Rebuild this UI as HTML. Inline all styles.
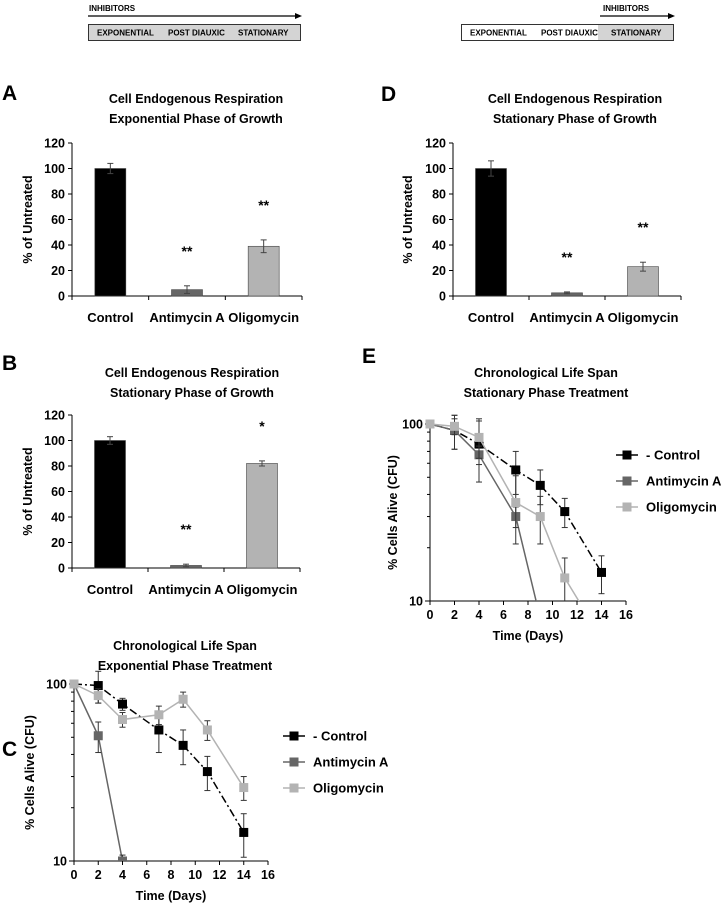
<!DOCTYPE html>
<html><head><meta charset="utf-8"><style>
body{margin:0;background:#fff}
svg{display:block;font-family:"Liberation Sans",Arial,sans-serif;font-weight:bold}
</style></head><body>
<svg id="fig" width="722" height="909" viewBox="0 0 722 909">
<g>
<text x="89" y="11" font-size="8">INHIBITORS</text>
<line x1="88" y1="16" x2="296" y2="16" stroke="#000" stroke-width="1.2"/><polygon points="302,16 295,13 295,19" fill="#000"/>
<rect x="88.5" y="24.5" width="212" height="16" fill="#d4d4d4" stroke="#333"/>
<text x="97" y="35.5" font-size="8">EXPONENTIAL</text>
<text x="168" y="35.5" font-size="8">POST DIAUXIC</text>
<text x="238" y="35.5" font-size="8">STATIONARY</text>
</g>
<g>
<text x="603" y="11" font-size="8">INHIBITORS</text>
<line x1="600" y1="16" x2="668" y2="16" stroke="#000" stroke-width="1.2"/><polygon points="675,16 668,13 668,19" fill="#000"/>
<rect x="461.5" y="24.5" width="212" height="16" fill="#fff" stroke="#333"/>
<rect x="598" y="25" width="75" height="15" fill="#d4d4d4"/>
<text x="470" y="35.5" font-size="8">EXPONENTIAL</text>
<text x="541" y="35.5" font-size="8">POST DIAUXIC</text>
<text x="611" y="35.5" font-size="8">STATIONARY</text>
</g>
</svg>
<script>
// Bar charts data
const barCats = ["Control","Antimycin A","Oligomycin"];
const barColors = ["#000000","#666666","#b3b3b3"];
const valsA = [100, 5, 39];
const errA = [4, 3, 5];
const starsA = ["", "**", "**"];
const valsB = [100, 2, 82];
const errB = [3, 1, 2];
const starsB = ["", "**", "*"];
const valsD = [100, 2.5, 23];
const errD = [6, 0.7, 3.5];
const starsD = ["", "**", "**"];
const barTicks = [0,20,40,60,80,100,120];
// Line charts data
const days = [0,2,4,7,9,11,14];
const ctlC = [100,98,77,55,45,32,14.5];
const ctlCerr = [2,20,6,14,10,7,4];
const antiDaysC = [0,2,4];
const antiC = [100,51,10];
const antiCerr = [2,10,0.8];
const oliC = [100,86,63,67,82,55,26];
const oliCerr = [2,8,6,8,8,7,4];
const ctlE = [100,92,77,55,45,32,14.5];
const ctlEerr = [2,20,30,15,10,6,3.5];
const antiDaysE = [0,2,4,7,9];
const antiE = [100,92,67,30,8];
const antiEerr = [2,20,8,4,4];
const oliDaysE = [0,2,4,7,9,11,13];
const oliE = [100,97,84,36,30,13.5,8];
const oliEerr = [2,10,20,15,9,4,0];
const xTicks = [0,2,4,6,8,10,12,14,16];
const legendNames = ["- Control","Antimycin A","Oligomycin"];

const NS="http://www.w3.org/2000/svg";
const svg=document.getElementById('fig');
function el(tag,attrs,parent,txt){const e=document.createElementNS(NS,tag);for(const k in attrs)e.setAttribute(k,attrs[k]);if(txt!==undefined)e.textContent=txt;(parent||svg).appendChild(e);return e;}

function barChart(name,letter,lx,ly,title1,title2,tx,ty,ax,x1,y0,y120,vals,errs,stars,ylabX){
  const g=el('g',{});
  
  
  const yS=v=>y0-(v/120)*(y0-y120);
  const L=el('text',{x:lx,y:ly,'font-size':21},g,letter);
  
  
  const t1=el('text',{x:tx,y:ty,'font-size':12.5,'text-anchor':'middle'},g,title1);
  
  
  el('text',{x:tx,y:ty+20,'font-size':12.5,'text-anchor':'middle'},g,title2);
  el('line',{x1:ax,y1:y120,x2:ax,y2:y0,stroke:'#000'},g);
  el('line',{x1:ax,y1:y0,x2:x1,y2:y0,stroke:'#000'},g);
  barTicks.forEach(t=>{
    el('line',{x1:ax-4,y1:yS(t),x2:ax,y2:yS(t),stroke:'#000'},g);
    const tl=el('text',{x:ax-7,y:yS(t)+4.5,'font-size':12.5,'text-anchor':'end'},g,t);
    
    
  });
  const yl=el('text',{x:ylabX,y:(y0+y120)/2,'font-size':12.5,'text-anchor':'middle',transform:`rotate(-90 ${ylabX} ${(y0+y120)/2})`},g,'% of Untreated');
  
  
  const cw=(x1-ax)/3;
  for(let i=0;i<=3;i++) el('line',{x1:ax+cw*i,y1:y0,x2:ax+cw*i,y2:y0+4,stroke:'#000'},g);
  vals.forEach((v,i)=>{
    const cx=ax+cw*(i+0.5);
    const b=el('rect',{x:cx-15.5,y:yS(v),width:31,height:y0-yS(v),fill:barColors[i],stroke:'#444','stroke-width':0.6},g);
    
    
    el('line',{x1:cx,y1:yS(v+errs[i]),x2:cx,y2:yS(v-errs[i]),stroke:'#444'},g);
    el('line',{x1:cx-3,y1:yS(v+errs[i]),x2:cx+3,y2:yS(v+errs[i]),stroke:'#444'},g);
    el('line',{x1:cx-3,y1:yS(v-errs[i]),x2:cx+3,y2:yS(v-errs[i]),stroke:'#444'},g);
    if(stars[i]){const s=el('text',{x:cx,y:yS(v+errs[i])-30,'font-size':14,'text-anchor':'middle'},g,stars[i]);
      
      }
    const c=el('text',{x:cx,y:y0+26,'font-size':13,'text-anchor':'middle'},g,barCats[i]);
    
    
  });
}
barChart('chart-a','A',2,100,'Cell Endogenous Respiration','Exponential Phase of Growth',196,103,72,302,296,143,valsA,errA,starsA,32);
barChart('chart-b','B',2,370,'Cell Endogenous Respiration','Stationary Phase of Growth',192,377,72,300,568,415,valsB,errB,starsB,32);
barChart('chart-d','D',381,101,'Cell Endogenous Respiration','Stationary Phase of Growth',575,103,453,681,296,143,valsD,errD,starsD,412);

function lineChart(name,letter,lx,ly,title1,title2,tx,ty,ax,x16,y100,y10,ylabX,series,legX,legY){
  const g=el('g',{});
  
  
  const xS=d=>ax+d/16*(x16-ax);
  const yS=v=>y10-Math.log10(v/10)*(y10-y100);
  if(letter){const L=el('text',{x:lx,y:ly,'font-size':21},g,letter);
    
    }
  const t1=el('text',{x:tx,y:ty,'font-size':12.5,'text-anchor':'middle'},g,title1);
  
  
  el('text',{x:tx,y:ty+20,'font-size':12.5,'text-anchor':'middle'},g,title2);
  el('line',{x1:ax,y1:y100,x2:ax,y2:y10,stroke:'#000'},g);
  el('line',{x1:ax,y1:y10,x2:x16,y2:y10,stroke:'#000'},g);
  [100,10].forEach(t=>{el('line',{x1:ax-5,y1:yS(t),x2:ax,y2:yS(t),stroke:'#000'},g);
    const tl=el('text',{x:ax-7,y:yS(t)+4.5,'font-size':12.5,'text-anchor':'end'},g,t);
    
    });
  for(let m=20;m<100;m+=10) el('line',{x1:ax-3,y1:yS(m),x2:ax,y2:yS(m),stroke:'#000'},g);
  xTicks.forEach(d=>{el('line',{x1:xS(d),y1:y10,x2:xS(d),y2:y10+4,stroke:'#000'},g);
    const tl=el('text',{x:xS(d),y:y10+18,'font-size':12.5,'text-anchor':'middle'},g,d);
    
    });
  const xt=el('text',{x:(ax+x16)/2,y:y10+39,'font-size':12.5,'text-anchor':'middle'},g,'Time (Days)');
  
  
  const yc=(y100+y10)/2;
  const yl=el('text',{x:ylabX,y:yc,'font-size':12.5,'text-anchor':'middle',transform:`rotate(-90 ${ylabX} ${yc})`},g,'% Cells Alive (CFU)');
  
  
  const cid='clip'+name;
  const cp=el('clipPath',{id:cid},g);el('rect',{x:ax-10,y:y100-40,width:x16-ax+20,height:y10-y100+40},cp);
  const pg=el('g',{'clip-path':`url(#${cid})`},g);
  series.forEach(s=>{
    const pts=s.x.map((d,i)=>xS(d)+','+yS(s.y[i])).join(' ');
    const pl=el('polyline',{points:pts,fill:'none',stroke:s.c,'stroke-width':1.5,'stroke-dasharray':s.dash||'none'},pg);
    
    
    s.x.forEach((d,i)=>{
      const v=s.y[i],e=s.e[i];if(v<10)return;
      const cx=xS(d);
      if(e>0){el('line',{x1:cx,y1:yS(v+e),x2:cx,y2:yS(Math.max(v-e,1)),stroke:'#333'},pg);
        el('line',{x1:cx-3,y1:yS(v+e),x2:cx+3,y2:yS(v+e),stroke:'#333'},pg);
        el('line',{x1:cx-3,y1:yS(v-e),x2:cx+3,y2:yS(v-e),stroke:'#333'},pg);}
      const m=el('rect',{x:cx-4.5,y:yS(v)-4.5,width:9,height:9,fill:s.c},pg);
      
      
    });
  });
  series.forEach((s,i)=>{
    const yy=legY+i*26;
    el('line',{x1:legX,y1:yy,x2:legX+22,y2:yy,stroke:s.c,'stroke-width':1.5},g);
    el('rect',{x:legX+6.5,y:yy-4.5,width:9,height:9,fill:s.c},g);
    const t=el('text',{x:legX+30,y:yy+4.5,'font-size':13},g,legendNames[i]);
    
    
  });
}
lineChart('chart-c','C',2,756,'Chronological Life Span','Exponential Phase Treatment',185,650,74,268,684,861,34,[
 {n:'control',x:days,y:ctlC,e:ctlCerr,c:'#000',dash:'8,3,2,3'},
 {n:'antimycin',x:antiDaysC,y:antiC,e:antiCerr,c:'#666'},
 {n:'oligomycin',x:days,y:oliC,e:oliCerr,c:'#b3b3b3'}],283,736);
lineChart('chart-e','E',362,363,'Chronological Life Span','Stationary Phase Treatment',546,377,430,626,424,601,397,[
 {n:'control',x:days,y:ctlE,e:ctlEerr,c:'#000',dash:'8,3,2,3'},
 {n:'antimycin',x:antiDaysE,y:antiE,e:antiEerr,c:'#666'},
 {n:'oligomycin',x:oliDaysE,y:oliE,e:oliEerr,c:'#b3b3b3'}],616,455);
</script>
</body></html>
